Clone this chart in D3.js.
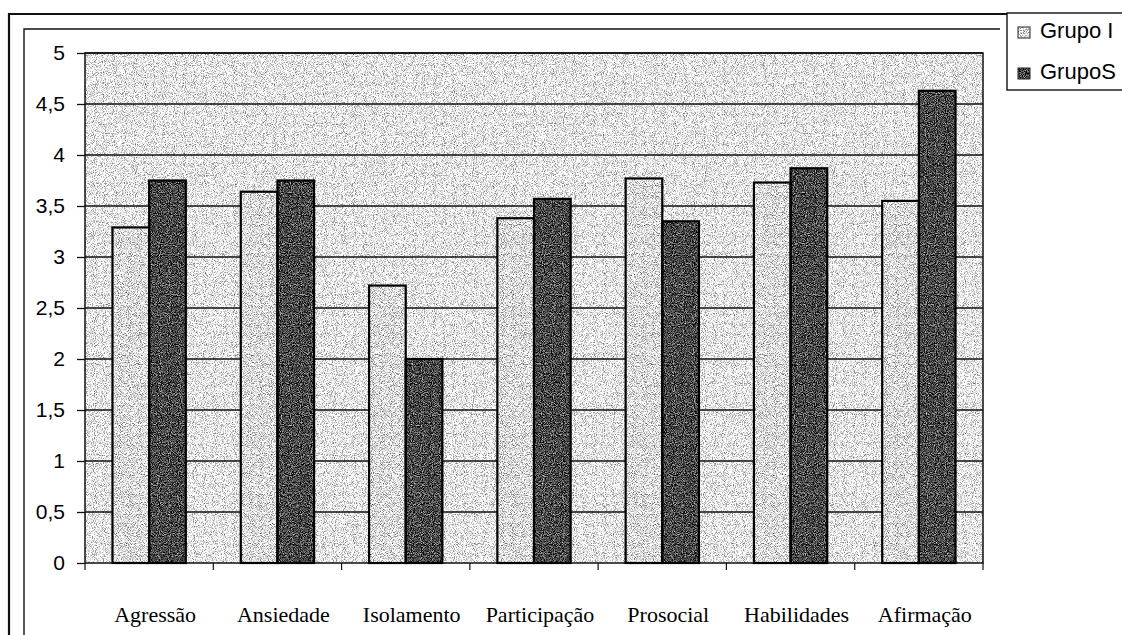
<!DOCTYPE html>
<html>
<head>
<meta charset="utf-8">
<script src="https://cdn.jsdelivr.net/npm/d3@7"></script>
<style>
  html, body { margin: 0; padding: 0; background: #fff; }
  svg { display: block; }
</style>
</head>
<body>
<div id="chart"></div>
<script>
// categories and values
const categories = ["Agressão", "Ansiedade", "Isolamento", "Participação", "Prosocial", "Habilidades", "Afirmação"];
const grupoI = [3.29, 3.64, 2.72, 3.38, 3.77, 3.73, 3.55];
const grupoS = [3.75, 3.75, 2.0, 3.57, 3.35, 3.87, 4.63];
const seriesNames = ["Grupo I", "GrupoS"];
const yTickValues = [0, 0.5, 1, 1.5, 2, 2.5, 3, 3.5, 4, 4.5, 5];

const width = 1122, height = 635;
const plot = { left: 85, top: 53, right: 983, bottom: 563 };

const svg = d3.select("#chart").append("svg")
  .attr("width", width)
  .attr("height", height);

// stipple textures, to look a bit like the photocopy
const defs = svg.append("defs");
function grain(id, mean, contrast, seed) {
  const f = defs.append("filter").attr("id", id)
    .attr("x", 0).attr("y", 0).attr("width", 1).attr("height", 1)
    .attr("color-interpolation-filters", "sRGB");
  f.append("feTurbulence").attr("type", "fractalNoise")
    .attr("baseFrequency", 1.1).attr("numOctaves", 1).attr("seed", seed).attr("result", "n");
  const b = mean - contrast * 0.5;
  const row = `${contrast} 0 0 0 ${b}`;
  f.append("feColorMatrix").attr("in", "n").attr("type", "matrix")
    .attr("values", `${row} ${row} ${row} 0 0 0 0 1`).attr("result", "g");
  f.append("feComposite").attr("in", "g").attr("in2", "SourceGraphic").attr("operator", "in");
}
grain("bgGrain", 0.93, 1.8, 3);
grain("lightGrain", 0.88, 2.0, 7);
grain("darkGrain", 0.28, 1.8, 11);

// page frame (double line)
const frame = svg.append("g").attr("fill", "none").attr("stroke", "#111");
frame.append("path").attr("d", `M9,${height} V14 H1007`).attr("stroke-width", 2.2);
frame.append("path").attr("d", `M24,${height} V29 H1000`).attr("stroke-width", 1.4);

const y = d3.scaleLinear().domain([0, 5]).range([plot.bottom, plot.top]);
const x0 = d3.scaleBand().domain(categories).range([plot.left, plot.right]).padding(0);
const x1 = d3.scaleBand().domain(seriesNames)
  .range([0, x0.bandwidth()]).paddingInner(0).paddingOuter(0.75);

// plot background
svg.append("rect")
  .attr("x", plot.left).attr("y", plot.top)
  .attr("width", plot.right - plot.left).attr("height", plot.bottom - plot.top)
  .attr("fill", "#ccc").attr("filter", "url(#bgGrain)");

// gridlines
svg.append("g").selectAll("line")
  .data(yTickValues.slice(1))
  .join("line")
  .attr("x1", plot.left).attr("x2", plot.right)
  .attr("y1", d => y(d)).attr("y2", d => y(d))
  .attr("stroke", "#111").attr("stroke-width", 1.3);

svg.append("rect")
  .attr("x", plot.left).attr("y", plot.top)
  .attr("width", plot.right - plot.left).attr("height", plot.bottom - plot.top)
  .attr("fill", "none").attr("stroke", "#111").attr("stroke-width", 1.5);

// bars
const rows = categories.map((c, i) => ({ cat: c, values: [grupoI[i], grupoS[i]] }));
const groups = svg.append("g").selectAll("g")
  .data(rows)
  .join("g")
  .attr("transform", d => `translate(${x0(d.cat)},0)`);

groups.selectAll("rect")
  .data(d => d.values.map((v, k) => ({ name: seriesNames[k], value: v })))
  .join("rect")
  .attr("x", d => x1(d.name))
  .attr("width", x1.bandwidth())
  .attr("y", d => y(d.value))
  .attr("height", d => y(0) - y(d.value))
  .attr("fill", d => d.name === "Grupo I" ? "#c0c0c0" : "#444")
  .attr("filter", d => d.name === "Grupo I" ? "url(#lightGrain)" : "url(#darkGrain)");

groups.selectAll("rect.edge")
  .data(d => d.values.map((v, k) => ({ name: seriesNames[k], value: v })))
  .join("rect")
  .attr("class", "edge")
  .attr("x", d => x1(d.name))
  .attr("width", x1.bandwidth())
  .attr("y", d => y(d.value))
  .attr("height", d => y(0) - y(d.value))
  .attr("fill", "none").attr("stroke", "#000").attr("stroke-width", 2.2);

// y axis
const fmt = d3.formatLocale({ decimal: ",", thousands: ".", grouping: [3], currency: ["", ""] }).format("~g");
const yAxis = svg.append("g")
  .attr("transform", `translate(${plot.left},0)`)
  .call(d3.axisLeft(y).tickValues(yTickValues).tickFormat(fmt).tickSize(8).tickPadding(12));
yAxis.select(".domain").remove();
yAxis.selectAll(".tick line").attr("stroke", "#111").attr("stroke-width", 1.3);
yAxis.selectAll(".tick text")
  .attr("fill", "#000")
  .style("font-family", "Arial, 'Liberation Sans', sans-serif")
  .style("font-size", "21px");

// x axis: ticks between categories, labels centred
const xAxis = svg.append("g").attr("transform", `translate(0,${plot.bottom})`);
xAxis.selectAll("line")
  .data(categories.concat(["end"]))
  .join("line")
  .attr("x1", (d, i) => plot.left + i * x0.bandwidth())
  .attr("x2", (d, i) => plot.left + i * x0.bandwidth())
  .attr("y1", 0).attr("y2", 7)
  .attr("stroke", "#111").attr("stroke-width", 1.2);
xAxis.selectAll("text")
  .data(categories)
  .join("text")
  .attr("x", d => x0(d) + x0.bandwidth() / 2 + 6)
  .attr("y", 59)
  .attr("text-anchor", "middle")
  .attr("fill", "#000")
  .style("font-family", "'Liberation Serif', 'Times New Roman', serif")
  .style("font-size", "22px")
  .text(d => d);

// legend
const legend = svg.append("g");
legend.append("rect")
  .attr("x", 1007).attr("y", 13).attr("width", 130).attr("height", 77)
  .attr("fill", "#fff").attr("stroke", "#111").attr("stroke-width", 1.4);
const item = legend.selectAll("g.item")
  .data(seriesNames)
  .join("g")
  .attr("class", "item")
  .attr("transform", (d, i) => `translate(1018,${27 + i * 41})`);
item.append("rect")
  .attr("width", 12).attr("height", 11)
  .attr("fill", d => d === "Grupo I" ? "#c0c0c0" : "#444")
  .attr("filter", d => d === "Grupo I" ? "url(#lightGrain)" : "url(#darkGrain)");
item.append("rect")
  .attr("width", 12).attr("height", 11)
  .attr("fill", "none").attr("stroke", "#222").attr("stroke-width", 1);
item.append("text")
  .attr("x", 22).attr("y", 11)
  .attr("fill", "#000")
  .style("font-family", "Arial, 'Liberation Sans', sans-serif")
  .style("font-size", "22px")
  .text(d => d);
</script>
</body>
</html>
